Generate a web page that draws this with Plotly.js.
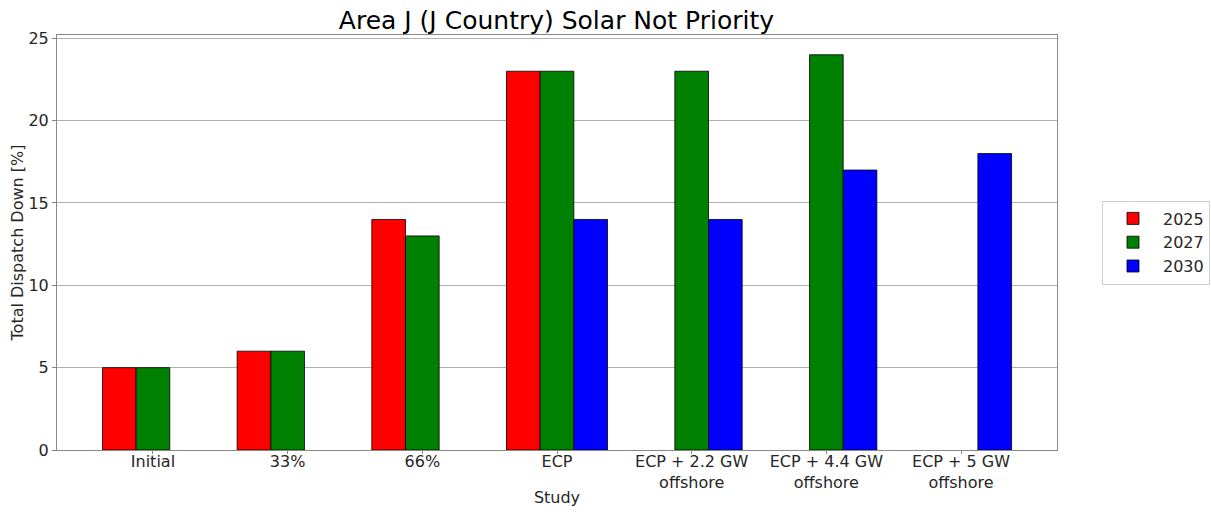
<!DOCTYPE html>
<html>
<head>
<meta charset="utf-8">
<script src="https://cdn.plot.ly/plotly-3.0.1.min.js"></script>
<style>html,body{margin:0;padding:0;background:#fff;}#chart{width:1211px;height:515px;}</style>
</head>
<body>
<div id="chart"></div>
<script>
const categories = ["Initial", "33%", "66%", "ECP", "ECP + 2.2 GW<br>offshore", "ECP + 4.4 GW<br>offshore", "ECP + 5 GW<br>offshore"];
const years = ["2025", "2027", "2030"];
const values2025 = [5, 6, 14, 23, null, null, null];
const values2027 = [5, 6, 13, 23, 23, 24, null];
const values2030 = [null, null, null, 14, 14, 17, 18];
const colors = ["#ff0000", "#008000", "#0000ff"];

const idx = categories.map((_, i) => i);
const series = [values2025, values2027, values2030];
const traces = series.map((vals, k) => ({
  type: "bar",
  name: years[k],
  x: idx,
  y: vals,
  marker: {color: colors[k], line: {color: "#000000", width: 0.8}},
  hoverinfo: "x+y+name"
}));

const font = "DejaVu Sans, sans-serif";
const layout = {
  width: 1211, height: 515,
  margin: {l: 57, r: 154, t: 35, b: 65, pad: 0, autoexpand: false},
  paper_bgcolor: "#ffffff", plot_bgcolor: "#ffffff",
  barmode: "group", bargap: 0.25, bargroupgap: 0,
  font: {family: font, size: 16, color: "#262626"},
  title: {text: "Area J (J Country) Solar Not Priority", font: {family: font, size: 25, color: "#000000"}, x: 0.4595, xanchor: "center", y: 0.96, yanchor: "middle"},
  xaxis: {
    range: [-0.7125, 6.7125],
    tickvals: idx, ticktext: categories,
    ticks: "outside", ticklen: 3, tickcolor: "#888888",
    ticklabelstandoff: -6,
    showline: true, linecolor: "#888888", linewidth: 1, mirror: true,
    showgrid: false, zeroline: false, automargin: false,
    tickfont: {family: font, size: 16, color: "#262626"},
    title: {text: "Study", font: {family: font, size: 16, color: "#262626"}, standoff: 0}
  },
  yaxis: {
    range: [0, 25.2],
    tickvals: [0, 5, 10, 15, 20, 25],
    ticks: "outside", ticklen: 4, tickcolor: "#888888",
    showline: true, linecolor: "#888888", linewidth: 1, mirror: true,
    showgrid: true, gridcolor: "#b0b0b0", gridwidth: 1, zeroline: false, automargin: false,
    tickfont: {family: font, size: 16, color: "#262626"},
    title: {text: "Total Dispatch Down [%]", font: {family: font, size: 16, color: "#262626"}, standoff: 0}
  },
  legend: {
    x: 1.045, xanchor: "left", y: 0.5, yanchor: "middle",
    bordercolor: "#d0d0d0", borderwidth: 1, bgcolor: "#ffffff",
    font: {family: font, size: 16, color: "#262626"},
    tracegroupgap: 0, itemwidth: 50
  },
  showlegend: true
};

Plotly.newPlot("chart", traces, layout, {displayModeBar: false, staticPlot: true});
</script>
</body>
</html>
